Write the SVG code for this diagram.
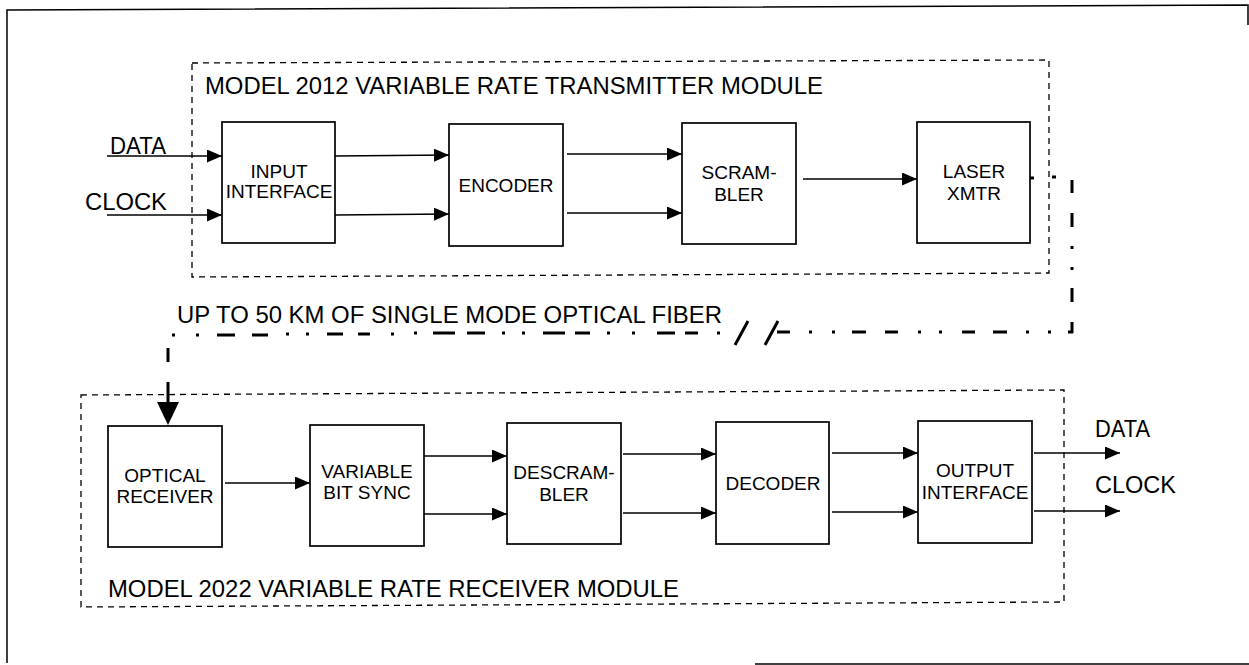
<svg xmlns="http://www.w3.org/2000/svg" width="1249" height="665" viewBox="0 0 1249 665">
<defs>
<marker id="ah" markerUnits="userSpaceOnUse" markerWidth="15" markerHeight="13" refX="15" refY="6.5" orient="auto">
<path d="M0,0 L15,6.5 L0,13 z" fill="#000"/>
</marker>
<style>
.frame{fill:none;stroke:#000;stroke-width:1.5}
.mod{fill:none;stroke:#000;stroke-width:1.3;stroke-dasharray:6 5}
.box{fill:#fff;stroke:#000;stroke-width:1.7}
.conn{stroke:#000;stroke-width:1.4;fill:none;marker-end:url(#ah)}
.fib{stroke:#000;stroke-width:3;fill:none}
text{font-family:"Liberation Sans",Arial,sans-serif;fill:#000}
.bl{font-size:19px;text-anchor:middle}
.big{font-size:23px}
</style>
</defs>
<rect width="1249" height="665" fill="#fff"/>
<g id="frame">
<path class="frame" d="M7,663 L7,10 L1248,5 L1248,25"/>
<path class="frame" d="M755,664 L1249,664"/>
</g>
<g id="tx-module">
<path class="mod" d="M192,63 L1049,60 L1049,273 L192,277 Z"/>
<text class="big" x="205" y="94" textLength="618" lengthAdjust="spacingAndGlyphs">MODEL 2012 VARIABLE RATE TRANSMITTER MODULE</text>
</g>
<g id="rx-module">
<path class="mod" d="M81,395 L1064,390 L1064,602 L81,607 Z"/>
<text class="big" x="108" y="597" textLength="571" lengthAdjust="spacingAndGlyphs">MODEL 2022 VARIABLE RATE RECEIVER MODULE</text>
</g>
<g id="connectors">
<line class="conn" x1="107" y1="156" x2="222" y2="156"/>
<line class="conn" x1="107" y1="215" x2="222" y2="215"/>
<line class="conn" x1="335" y1="156" x2="449" y2="155"/>
<line class="conn" x1="335" y1="215" x2="449" y2="214"/>
<line class="conn" x1="567" y1="154" x2="682" y2="154"/>
<line class="conn" x1="567" y1="213" x2="682" y2="213"/>
<line class="conn" x1="803" y1="179" x2="917" y2="179"/>
<line class="conn" x1="225" y1="483" x2="310" y2="483"/>
<line class="conn" x1="424" y1="456" x2="507" y2="456"/>
<line class="conn" x1="424" y1="514" x2="507" y2="514"/>
<line class="conn" x1="623" y1="454" x2="716" y2="454"/>
<line class="conn" x1="623" y1="513" x2="716" y2="513"/>
<line class="conn" x1="832" y1="453" x2="918" y2="453"/>
<line class="conn" x1="832" y1="512" x2="918" y2="512"/>
<line class="conn" x1="1034" y1="453" x2="1120" y2="453"/>
<line class="conn" x1="1034" y1="511" x2="1120" y2="511"/>
<text class="big" x="110" y="154" textLength="56" lengthAdjust="spacingAndGlyphs">DATA</text>
<text class="big" x="85" y="210" textLength="82" lengthAdjust="spacingAndGlyphs">CLOCK</text>
<text class="big" x="1095" y="437" textLength="55" lengthAdjust="spacingAndGlyphs">DATA</text>
<text class="big" x="1095" y="493" textLength="81" lengthAdjust="spacingAndGlyphs">CLOCK</text>
</g>
<g id="fiber">
<text class="big" x="177" y="323" textLength="545" lengthAdjust="spacingAndGlyphs">UP TO 50 KM OF SINGLE MODE OPTICAL FIBER</text>
<g class="fib">
<path d="M1030,178 H1034 M1052,177 H1056"/>
<path d="M1072,180 V193 M1072,213 V227 M1072,246 V249 M1072,267 V270 M1072,288 V302 M1072,322 V333 M1068,332 H1073"/>
<path d="M1048,332 H1051 M1026,332 H1029 M993,332 H1007 M962,332 H975 M918,332 H921 M939,332 H942 M885,332 H898 M852,332 H866 M832,332 H835 M809,332 H812 M777,332 H790"/>
<path d="M717,333 H720 M685,333 H698 M657,333 H675 M632,333 H635 M607,333 H610 M575,333 H590 M543,333 H565 M522,333 H525 M502,333 H505 M467,333 H485 M433,333 H455 M414,333 H417 M391,334 H394 M358,334 H370 M327,334 H343 M306,334 H309 M286,334 H289 M252,335 H268 M217,335 H235 M196,335 H199 M172,335 H175"/>
<path d="M748,321 L735,345 M778,321 L765,345"/>
<path d="M168,348 V362 M168,382 V402"/>
</g>
<path d="M157,402 L179,402 L168,425 Z" fill="#000"/>
</g>
<g id="input-interface">
<rect class="box" x="222" y="122" width="113" height="121"/>
<text class="bl" x="279" y="178">INPUT</text>
<text class="bl" x="279" y="198">INTERFACE</text>
</g>
<g id="encoder">
<rect class="box" x="449" y="124" width="114" height="122"/>
<text class="bl" x="506" y="192">ENCODER</text>
</g>
<g id="scrambler">
<rect class="box" x="682" y="123" width="114" height="121"/>
<text class="bl" x="739" y="179">SCRAM-</text>
<text class="bl" x="739" y="201">BLER</text>
</g>
<g id="laser-xmtr">
<rect class="box" x="917" y="122" width="113" height="121"/>
<text class="bl" x="974" y="178">LASER</text>
<text class="bl" x="974" y="200">XMTR</text>
</g>
<g id="optical-receiver">
<rect class="box" x="108" y="426" width="114" height="121"/>
<text class="bl" x="165" y="482">OPTICAL</text>
<text class="bl" x="165" y="503">RECEIVER</text>
</g>
<g id="variable-bit-sync">
<rect class="box" x="310" y="425" width="114" height="121"/>
<text class="bl" x="367" y="478">VARIABLE</text>
<text class="bl" x="367" y="499">BIT SYNC</text>
</g>
<g id="descrambler">
<rect class="box" x="507" y="423" width="114" height="121"/>
<text class="bl" x="564" y="479">DESCRAM-</text>
<text class="bl" x="564" y="501">BLER</text>
</g>
<g id="decoder">
<rect class="box" x="716" y="422" width="113" height="122"/>
<text class="bl" x="773" y="490">DECODER</text>
</g>
<g id="output-interface">
<rect class="box" x="918" y="421" width="114" height="122"/>
<text class="bl" x="975" y="477">OUTPUT</text>
<text class="bl" x="975" y="499">INTERFACE</text>
</g>
</svg>
